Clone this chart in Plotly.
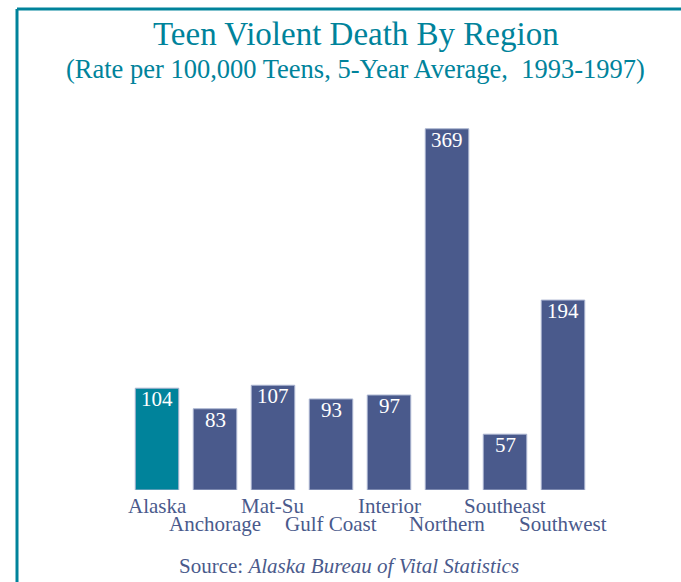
import plotly.graph_objects as go

# Teen violent death rates by Alaska region (per 100,000 teens, 1993-1997 average)
regions = ["Alaska", "Anchorage", "Mat-Su", "Gulf Coast", "Interior",
           "Northern", "Southeast", "Southwest"]
rates = [104, 83, 107, 93, 97, 369, 57, 194]

TEAL = "#00839b"
NAVY = "#4a5a8c"
SERIF = "Liberation Serif, Times New Roman, serif"

W, H = 681, 582
bar_colors = [TEAL] + [NAVY] * (len(regions) - 1)

fig = go.Figure(go.Bar(
    x=list(range(len(regions))),
    y=rates,
    marker=dict(color=bar_colors, line=dict(color="#aab4d0", width=1)),
    width=0.75,
    hoverinfo="skip",
))

annotations = []
# value labels just inside the top of each bar
for i, v in enumerate(rates):
    annotations.append(dict(
        x=i, y=v, xref="x", yref="y", text=str(v), showarrow=False,
        yanchor="top", yshift=3,
        font=dict(family=SERIF, size=21, color="white"),
    ))

# region names staggered on two rows below the bars
for i, name in enumerate(regions):
    annotations.append(dict(
        x=i, y=0, xref="x", yref="y", text=name, showarrow=False,
        yanchor="middle", yshift=-16 if i % 2 == 0 else -34,
        font=dict(family=SERIF, size=21, color=NAVY),
    ))

annotations += [
    dict(x=356 / W, y=1 - 34 / H, xref="paper", yref="paper",
         text="Teen Violent Death By Region", showarrow=False,
         xanchor="center", yanchor="middle",
         font=dict(family=SERIF, size=33, color=TEAL)),
    dict(x=356 / W, y=1 - 69 / H, xref="paper", yref="paper",
         text="(Rate per 100,000 Teens, 5-Year Average,&nbsp;&nbsp;1993-1997)",
         showarrow=False, xanchor="center", yanchor="middle",
         font=dict(family=SERIF, size=26.5, color=TEAL)),
    dict(x=349 / W, y=1 - 566 / H, xref="paper", yref="paper",
         text="Source: <i>Alaska Bureau of Vital Statistics</i>",
         showarrow=False, xanchor="center", yanchor="middle",
         font=dict(family=SERIF, size=21, color=NAVY)),
]

# teal frame along the left and top edges
shapes = [
    dict(type="line", xref="paper", yref="paper",
         x0=17 / W, x1=17 / W, y0=0, y1=1 - 9 / H,
         line=dict(color=TEAL, width=3)),
    dict(type="line", xref="paper", yref="paper",
         x0=17 / W, x1=1, y0=1 - 9 / H, y1=1 - 9 / H,
         line=dict(color=TEAL, width=3)),
]

fig.update_layout(
    width=W, height=H,
    margin=dict(l=0, r=0, t=0, b=0),
    paper_bgcolor="white", plot_bgcolor="white",
    showlegend=False,
    xaxis=dict(domain=[128 / W, 592 / W], range=[-0.5, 7.5],
               showticklabels=False, showgrid=False, zeroline=False,
               showline=False, ticks=""),
    yaxis=dict(domain=[92 / H, 464 / H], range=[0, 380],
               showticklabels=False, showgrid=False, zeroline=False,
               showline=False, ticks=""),
    annotations=annotations,
    shapes=shapes,
)

fig.write_html("out.html")
